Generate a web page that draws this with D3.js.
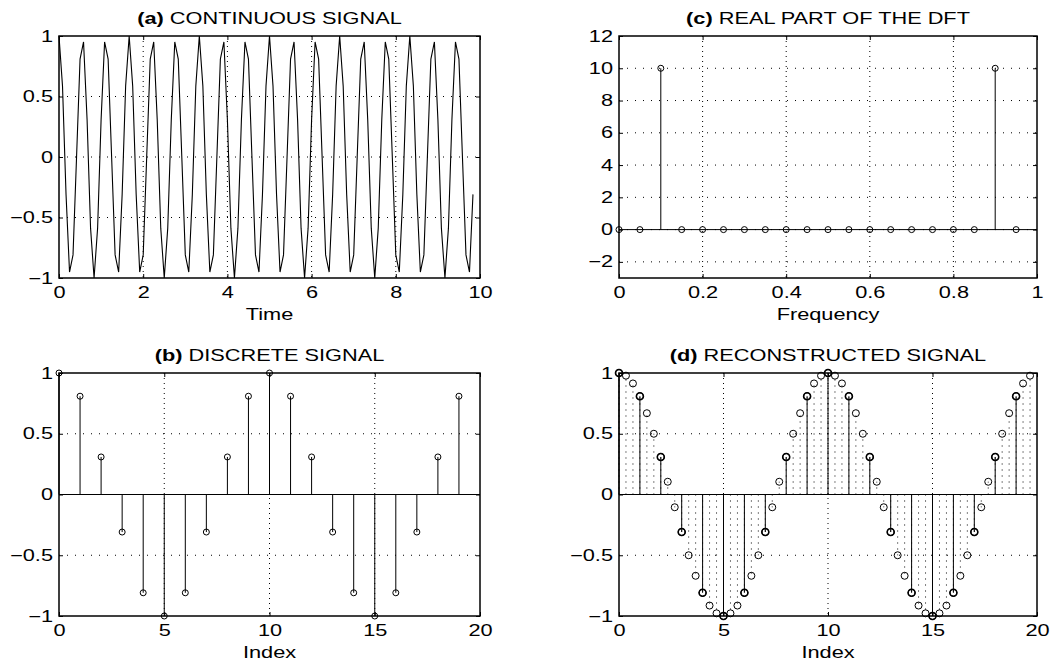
<!DOCTYPE html>
<html>
<head>
<meta charset="utf-8">
<script src="https://cdn.jsdelivr.net/npm/d3@7"></script>
<style>
  body { margin: 0; background: #fff; }
  svg text { font-family: "Liberation Sans", Arial, Helvetica, sans-serif; font-size: 16px; fill: #000; }
</style>
</head>
<body>
<svg id="chart" width="1063" height="661"></svg>
<script>
// (a) continuous signal, sampled every 1/12 s
var contTime = [
  0, 0.083, 0.167, 0.25, 0.333, 0.417, 0.5, 0.583, 0.667, 0.75, 0.833, 0.917,
  1, 1.083, 1.167, 1.25, 1.333, 1.417, 1.5, 1.583, 1.667, 1.75, 1.833, 1.917,
  2, 2.083, 2.167, 2.25, 2.333, 2.417, 2.5, 2.583, 2.667, 2.75, 2.833, 2.917,
  3, 3.083, 3.167, 3.25, 3.333, 3.417, 3.5, 3.583, 3.667, 3.75, 3.833, 3.917,
  4, 4.083, 4.167, 4.25, 4.333, 4.417, 4.5, 4.583, 4.667, 4.75, 4.833, 4.917,
  5, 5.083, 5.167, 5.25, 5.333, 5.417, 5.5, 5.583, 5.667, 5.75, 5.833, 5.917,
  6, 6.083, 6.167, 6.25, 6.333, 6.417, 6.5, 6.583, 6.667, 6.75, 6.833, 6.917,
  7, 7.083, 7.167, 7.25, 7.333, 7.417, 7.5, 7.583, 7.667, 7.75, 7.833, 7.917,
  8, 8.083, 8.167, 8.25, 8.333, 8.417, 8.5, 8.583, 8.667, 8.75, 8.833, 8.917,
  9, 9.083, 9.167, 9.25, 9.333, 9.417, 9.5, 9.583, 9.667, 9.75, 9.833
]
var contValue = [
  1, 0.588, -0.309, -0.951, -0.809, 0, 0.809, 0.951, 0.309, -0.588, -1, -0.588, 0.309, 0.951, 0.809, 0, -0.809, -0.951, -0.309, 0.588,
  1, 0.588, -0.309, -0.951, -0.809, 0, 0.809, 0.951, 0.309, -0.588, -1, -0.588, 0.309, 0.951, 0.809, 0, -0.809, -0.951, -0.309, 0.588,
  1, 0.588, -0.309, -0.951, -0.809, 0, 0.809, 0.951, 0.309, -0.588, -1, -0.588, 0.309, 0.951, 0.809, 0, -0.809, -0.951, -0.309, 0.588,
  1, 0.588, -0.309, -0.951, -0.809, 0, 0.809, 0.951, 0.309, -0.588, -1, -0.588, 0.309, 0.951, 0.809, 0, -0.809, -0.951, -0.309, 0.588,
  1, 0.588, -0.309, -0.951, -0.809, 0, 0.809, 0.951, 0.309, -0.588, -1, -0.588, 0.309, 0.951, 0.809, 0, -0.809, -0.951, -0.309, 0.588,
  1, 0.588, -0.309, -0.951, -0.809, 0, 0.809, 0.951, 0.309, -0.588, -1, -0.588, 0.309, 0.951, 0.809, 0, -0.809, -0.951, -0.309
]

// (b) discrete signal
var discIndex = [0, 1, 2, 3, 4, 5, 6, 7, 8, 9, 10, 11, 12, 13, 14, 15, 16, 17, 18, 19]
var discValue = [1, 0.809, 0.309, -0.309, -0.809, -1, -0.809, -0.309, 0.309, 0.809,
                 1, 0.809, 0.309, -0.309, -0.809, -1, -0.809, -0.309, 0.309, 0.809]

// (c) real part of the DFT
var dftFreq = [0, 0.05, 0.1, 0.15, 0.2, 0.25, 0.3, 0.35, 0.4, 0.45,
               0.5, 0.55, 0.6, 0.65, 0.7, 0.75, 0.8, 0.85, 0.9, 0.95]
var dftReal = [0, 0, 10, 0, 0, 0, 0, 0, 0, 0, 0, 0, 0, 0, 0, 0, 0, 0, 10, 0]

// (d) reconstructed signal, 3 points per sample
var reconIndex = [
  0, 0.333, 0.667, 1, 1.333, 1.667, 2, 2.333, 2.667, 3, 3.333, 3.667, 4, 4.333, 4.667,
  5, 5.333, 5.667, 6, 6.333, 6.667, 7, 7.333, 7.667, 8, 8.333, 8.667, 9, 9.333, 9.667,
  10, 10.333, 10.667, 11, 11.333, 11.667, 12, 12.333, 12.667, 13, 13.333, 13.667, 14, 14.333, 14.667,
  15, 15.333, 15.667, 16, 16.333, 16.667, 17, 17.333, 17.667, 18, 18.333, 18.667, 19, 19.333, 19.667
]
var reconValue = [
  1, 0.978, 0.914, 0.809, 0.669, 0.5, 0.309, 0.105, -0.105, -0.309, -0.5, -0.669, -0.809, -0.914, -0.978,
  -1, -0.978, -0.914, -0.809, -0.669, -0.5, -0.309, -0.105, 0.105, 0.309, 0.5, 0.669, 0.809, 0.914, 0.978,
  1, 0.978, 0.914, 0.809, 0.669, 0.5, 0.309, 0.105, -0.105, -0.309, -0.5, -0.669, -0.809, -0.914, -0.978,
  -1, -0.978, -0.914, -0.809, -0.669, -0.5, -0.309, -0.105, 0.105, 0.309, 0.5, 0.669, 0.809, 0.914, 0.978
]

// tick values
var ticksTime = [0, 2, 4, 6, 8, 10]
var ticksIndex = [0, 5, 10, 15, 20]
var ticksFreq = [0, 0.2, 0.4, 0.6, 0.8, 1]
var ticksUnit = [-1, -0.5, 0, 0.5, 1]
var ticksDft = [-2, 0, 2, 4, 6, 8, 10, 12]

// the source figure is stretched sideways, so text is too
var stretch = 1.36

var svg = d3.select("#chart")

function wideText(g, cx, cy) {
    return g.append("text")
        .attr("transform", "translate(" + cx + "," + cy + ") scale(" + stretch + ",1)")
        .attr("text-anchor", "middle")
}

// axes box with grid, inward ticks on all sides, labels and title
function frame(box, xDomain, yDomain, xTicks, yTicks, letter, title, xLabel) {
    var x = d3.scaleLinear().domain(xDomain).range([box.left, box.right])
    var y = d3.scaleLinear().domain(yDomain).range([box.bottom, box.top])
    var g = svg.append("g")
    var grid = g.append("g")

    grid.selectAll("line.gx")
        .data(xTicks.filter(function(d) { return d > xDomain[0] && d < xDomain[1] }))
        .enter().append("line")
        .attr("x1", function(d) { return x(d) }).attr("x2", function(d) { return x(d) })
        .attr("y1", box.top).attr("y2", box.bottom)
        .attr("stroke", "#000").attr("stroke-dasharray", "1,4")
    grid.selectAll("line.gy")
        .data(yTicks.filter(function(d) { return d > yDomain[0] && d < yDomain[1] }))
        .enter().append("line")
        .attr("y1", function(d) { return y(d) }).attr("y2", function(d) { return y(d) })
        .attr("x1", box.left).attr("x2", box.right)
        .attr("stroke", "#000").attr("stroke-dasharray", "1,7")

    var bottom = g.append("g").attr("transform", "translate(0," + box.bottom + ")")
        .call(d3.axisBottom(x).tickValues(xTicks).tickSize(-4).tickPadding(9).tickFormat(d3.format("")))
    var left = g.append("g").attr("transform", "translate(" + box.left + ",0)")
        .call(d3.axisLeft(y).tickValues(yTicks).tickSize(-4).tickPadding(6 / stretch).tickFormat(d3.format("")))
    var top = g.append("g").attr("transform", "translate(0," + box.top + ")")
        .call(d3.axisTop(x).tickValues(xTicks).tickSize(-4).tickFormat(""))
    var right = g.append("g").attr("transform", "translate(" + box.right + ",0)")
        .call(d3.axisRight(y).tickValues(yTicks).tickSize(-4).tickFormat(""))
    ;[bottom, left, top, right].forEach(function(a) {
        a.select(".domain").remove()
        a.attr("font-size", null).attr("font-family", null)
        a.selectAll(".tick line").attr("stroke", "#000")
        a.selectAll(".tick text").attr("transform", "scale(" + stretch + ",1)")
    })

    g.append("rect")
        .attr("x", box.left).attr("y", box.top)
        .attr("width", box.right - box.left).attr("height", box.bottom - box.top)
        .attr("fill", "none").attr("stroke", "#000").attr("stroke-width", 1.5)

    var t = wideText(g, (box.left + box.right) / 2, box.top - 12)
    t.append("tspan").attr("font-weight", "bold").text(letter)
    t.append("tspan").text(" " + title)

    wideText(g, (box.left + box.right) / 2, box.bottom + 42).text(xLabel)

    return { g: g, x: x, y: y }
}

function baseline(p, domain) {
    p.g.append("line")
        .attr("x1", p.x(domain[0])).attr("x2", p.x(domain[1]))
        .attr("y1", p.y(0)).attr("y2", p.y(0))
        .attr("stroke", "#000").attr("stroke-width", 1)
}

function stems(p, xs, ys, r, dash, sw) {
    var pts = xs.map(function(d, i) { return [d, ys[i]] })
    p.g.append("g").selectAll("line")
        .data(pts).enter().append("line")
        .attr("x1", function(d) { return p.x(d[0]) }).attr("x2", function(d) { return p.x(d[0]) })
        .attr("y1", p.y(0))
        .attr("y2", function(d) { return p.y(d[1]) })
        .attr("stroke", "#000").attr("stroke-width", 1)
        .attr("stroke-dasharray", dash)
    p.g.append("g").selectAll("circle")
        .data(pts).enter().append("circle")
        .attr("cx", function(d) { return p.x(d[0]) })
        .attr("cy", function(d) { return p.y(d[1]) })
        .attr("r", r)
        .attr("fill", "none").attr("stroke", "#000").attr("stroke-width", sw)
}

// (a)
var pa = frame({ left: 59, right: 480, top: 36, bottom: 278 }, [0, 10], [-1, 1],
    ticksTime, ticksUnit, "(a)", "CONTINUOUS SIGNAL", "Time")
pa.g.append("path")
    .datum(contTime.map(function(d, i) { return [d, contValue[i]] }))
    .attr("fill", "none").attr("stroke", "#000").attr("stroke-width", 1.1)
    .attr("d", d3.line().x(function(d) { return pa.x(d[0]) }).y(function(d) { return pa.y(d[1]) }))

// (c)
var pc = frame({ left: 619, right: 1037, top: 36, bottom: 278 }, [0, 1], [-3, 12],
    ticksFreq, ticksDft, "(c)", "REAL PART OF THE DFT", "Frequency")
baseline(pc, [0, 1])
stems(pc, dftFreq, dftReal, 3, null, 1)

// (b)
var pb = frame({ left: 59, right: 480, top: 373, bottom: 616 }, [0, 20], [-1, 1],
    ticksIndex, ticksUnit, "(b)", "DISCRETE SIGNAL", "Index")
baseline(pb, [0, 20])
stems(pb, discIndex, discValue, 3, null, 1)

// (d)
var pd = frame({ left: 619, right: 1037, top: 373, bottom: 616 }, [0, 20], [-1, 1],
    ticksIndex, ticksUnit, "(d)", "RECONSTRUCTED SIGNAL", "Index")
baseline(pd, [0, 20])
stems(pd, reconIndex, reconValue, 3.5, "1,5", 1)
stems(pd, discIndex, discValue, 3.5, null, 1.6)
</script>
</body>
</html>
